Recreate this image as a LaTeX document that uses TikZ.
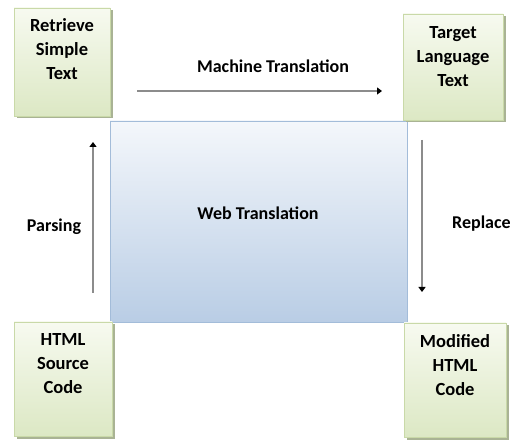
\documentclass[tikz,border=0pt]{standalone}
\usepackage{fontspec}
\setmainfont{Carlito}
\usetikzlibrary{arrows.meta,shadows}
\definecolor{boxtop}{HTML}{F7FAF0}
\definecolor{boxbot}{HTML}{DCE8C4}
\definecolor{boxline}{HTML}{C9D9A8}
\definecolor{boxshade}{HTML}{A9B394}
\definecolor{maintop}{HTML}{F4F7FB}
\definecolor{mainbot}{HTML}{B9CDE5}
\definecolor{mainline}{HTML}{A3BCD9}
\definecolor{flowgray}{HTML}{8C8C8C}
\tikzset{
  x=1pt, y=-1pt,
  stepbox/.style={draw=boxline, line width=0.6pt, top color=boxtop, bottom color=boxbot,
    inner sep=0pt,
    drop shadow={shadow xshift=2.5pt, shadow yshift=-2.5pt, fill=boxshade, opacity=1}},
  mainbox/.style={draw=mainline, line width=0.6pt, top color=maintop, bottom color=mainbot,
    inner sep=0pt},
  boxtext/.style={anchor=north, align=center, font=\bfseries\fontsize{18.5}{24}\selectfont,
    inner sep=0pt},
  flowlabel/.style={font=\bfseries\fontsize{18}{21}\selectfont, inner sep=0pt},
  flow/.style={draw=flowgray, line width=2.6pt,
    -{Triangle[length=5pt,width=7pt,fill=black,color=black]}, shorten >=0pt},
}
\begin{document}
\begin{tikzpicture}
\useasboundingbox (0,0) rectangle (515,441);
% central block
\node[mainbox, minimum width=297pt, minimum height=201pt] (web) at (258.5,221.5) {};
\node[flowlabel] (webtxt) at (258,213) {Web Translation};
% corner blocks
\node[stepbox, minimum width=96pt, minimum height=108pt] (ret) at (62,62) {};
\node[boxtext] (rettxt) at ([yshift=-11pt]ret.north) {Retrieve\\Simple\\Text};
\node[stepbox, minimum width=100pt, minimum height=106pt] (tgt) at (453,67) {};
\node[boxtext] (tgttxt) at ([yshift=-13pt]tgt.north) {Target\\Language\\Text};
\node[stepbox, minimum width=98pt, minimum height=114pt] (src) at (63,379) {};
\node[boxtext] (srctxt) at ([yshift=-12pt]src.north) {HTML\\Source\\Code};
\node[stepbox, minimum width=102pt, minimum height=114pt] (mod) at (455,380) {};
\node[boxtext] (modtxt) at ([yshift=-12pt]mod.north) {Modified\\HTML\\Code};
% connector end points
\coordinate (mtA) at (137,91);
\coordinate (mtB) at (382,91);
\coordinate (paA) at (93,293);
\coordinate (paB) at (93,142);
\coordinate (reA) at (422,140);
\coordinate (reB) at (422,292);
\draw[flow] (mtA) -- (mtB);
\draw[flow] (paA) -- (paB);
\draw[flow] (reA) -- (reB);
% connector labels
\node[flowlabel] (mtlab) at (273,66) {Machine Translation};
\node[flowlabel] (palab) at (54,227) {Parsing};
\node[flowlabel, anchor=west] (relab) at (452,224) {Replace};
\end{tikzpicture}
\end{document}
